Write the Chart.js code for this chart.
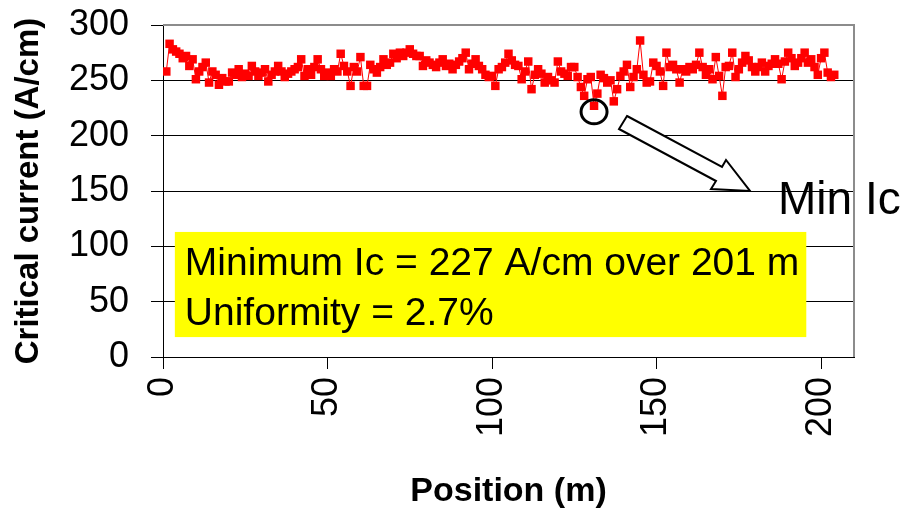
<!DOCTYPE html>
<html>
<head>
<meta charset="utf-8">
<script src="https://cdn.jsdelivr.net/npm/chart.js@4"></script>
<style>
  body { margin: 0; background: #fff; }
  canvas { display: block; }
</style>
</head>
<body>
<canvas id="icChart" width="907" height="509"></canvas>
<script>
// Position along the tape (m)
var positions = [
  1, 2, 3, 4, 5, 6, 7, 8, 9, 10,
  11, 12, 13, 14, 15, 16, 17, 18, 19, 20,
  21, 22, 23, 24, 25, 26, 27, 28, 29, 30,
  31, 32, 33, 34, 35, 36, 37, 38, 39, 40,
  41, 42, 43, 44, 45, 46, 47, 48, 49, 50,
  51, 52, 53, 54, 55, 56, 57, 58, 59, 60,
  61, 62, 63, 64, 65, 66, 67, 68, 69, 70,
  71, 72, 73, 74, 75, 76, 77, 78, 79, 80,
  81, 82, 83, 84, 85, 86, 87, 88, 89, 90,
  91, 92, 93, 94, 95, 96, 97, 98, 99, 100,
  101, 102, 103, 104, 105, 106, 107, 108, 109, 110,
  111, 112, 113, 114, 115, 116, 117, 118, 119, 120,
  121, 122, 123, 124, 125, 126, 127, 128, 129, 130,
  131, 132, 133, 134, 135, 136, 137, 138, 139, 140,
  141, 142, 143, 144, 145, 146, 147, 148, 149, 150,
  151, 152, 153, 154, 155, 156, 157, 158, 159, 160,
  161, 162, 163, 164, 165, 166, 167, 168, 169, 170,
  171, 172, 173, 174, 175, 176, 177, 178, 179, 180,
  181, 182, 183, 184, 185, 186, 187, 188, 189, 190,
  191, 192, 193, 194, 195, 196, 197, 198, 199, 200,
  201, 202, 203, 204
];

// Critical current (A/cm)
var currents = [
  258, 283, 278, 276, 274, 270, 272, 263, 269, 251,
  258, 262, 266, 248, 258, 255, 246, 252, 249, 249,
  257, 255, 260, 253, 256, 254, 263, 258, 254, 257,
  260, 249, 255, 258, 263, 258, 253, 256, 258, 260,
  262, 269, 254, 260, 255, 262, 269, 260, 254, 257,
  254, 260, 258, 274, 263, 258, 245, 262, 258, 271,
  245, 245, 264, 260, 257, 262, 269, 264, 266, 274,
  270, 275, 272, 275, 278, 274, 272, 272, 263, 268,
  266, 264, 262, 266, 269, 263, 265, 260, 264, 267,
  270, 275, 260, 265, 269, 263, 260, 255, 253, 254,
  245, 260, 262, 266, 274, 268, 264, 263, 251, 258,
  267, 242, 255, 260, 256, 248, 253, 250, 248, 267,
  258, 256, 254, 262, 262, 253, 244, 236, 251, 253,
  227, 238, 255, 252, 248, 250, 231, 242, 254, 258,
  264, 244, 253, 260, 286, 255, 248, 249, 266, 263,
  258, 245, 275, 262, 264, 260, 248, 260, 258, 262,
  260, 264, 275, 262, 255, 260, 251, 271, 254, 236,
  262, 263, 275, 253, 260, 266, 272, 268, 262, 258,
  262, 266, 258, 263, 265, 269, 265, 251, 267, 275,
  270, 263, 266, 270, 275, 266, 269, 262, 255, 270,
  275, 257, 253, 255
];

var xTicks = [0, 50, 100, 150, 200];
var yTicks = [0, 50, 100, 150, 200, 250, 300];

var boxLines = ["Minimum Ic = 227 A/cm over 201 m", "Uniformity = 2.7%"];
var calloutText = "Min Ic";
var minPoint = { x: 131, y: 227 };

var FONT = "'Liberation Sans', Arial, sans-serif";

// Background, plot frame and the callouts drawn on top of the chart
var decorations = {
  id: 'decorations',
  beforeDraw: function(chart) {
    var ctx = chart.ctx;
    ctx.save();
    ctx.fillStyle = '#fff';
    ctx.fillRect(0, 0, chart.width, chart.height);
    ctx.restore();
  },
  beforeDatasetsDraw: function(chart) {
    var ctx = chart.ctx, a = chart.chartArea;
    var xs = chart.scales.x, ys = chart.scales.y;
    ctx.save();
    // gray top/right frame
    ctx.strokeStyle = '#8c8c8c';
    ctx.lineWidth = 2;
    ctx.beginPath();
    ctx.moveTo(a.left, a.top);
    ctx.lineTo(a.right, a.top);
    ctx.lineTo(a.right, a.bottom);
    ctx.stroke();

    // yellow text box
    var bx = xs.getPixelForValue(3.6), by = ys.getPixelForValue(113);
    var bw = xs.getPixelForValue(195.5) - bx, bh = ys.getPixelForValue(18) - by;
    ctx.fillStyle = '#ffff00';
    ctx.fillRect(bx, by, bw, bh);
    ctx.fillStyle = '#000';
    ctx.font = '39px ' + FONT;
    ctx.textBaseline = 'alphabetic';
    ctx.textAlign = 'left';
    ctx.fillText(boxLines[0], bx + 10, by + 43);
    ctx.fillText(boxLines[1], bx + 10, by + 93);
    ctx.restore();
  },
  afterDraw: function(chart) {
    var ctx = chart.ctx;
    var xs = chart.scales.x, ys = chart.scales.y;
    ctx.save();
    // circle round the minimum
    var cx = xs.getPixelForValue(minPoint.x), cy = ys.getPixelForValue(minPoint.y) + 6;
    ctx.strokeStyle = '#000';
    ctx.lineWidth = 3;
    ctx.beginPath();
    ctx.ellipse(cx, cy, 13, 12, 0, 0, Math.PI * 2);
    ctx.stroke();

    // block arrow
    var pts = [[627, 116], [722, 167], [726, 160], [750, 191], [711, 189], [716, 181], [619, 129]];
    ctx.fillStyle = '#fff';
    ctx.lineWidth = 2;
    ctx.lineJoin = 'miter';
    ctx.beginPath();
    pts.forEach(function(p, i) {
      if (i === 0) ctx.moveTo(p[0], p[1]); else ctx.lineTo(p[0], p[1]);
    });
    ctx.closePath();
    ctx.fill();
    ctx.stroke();

    // callout label
    ctx.fillStyle = '#000';
    ctx.font = '46px ' + FONT;
    ctx.textBaseline = 'alphabetic';
    ctx.fillText(calloutText, 778, 214);
    ctx.restore();
  }
};

var ctx = document.getElementById('icChart').getContext('2d');
var icChart = new Chart(ctx, {
  type: 'scatter',
  data: {
    datasets: [{
      data: positions.map(function(p, i) { return { x: p, y: currents[i] }; }),
      showLine: true,
      borderColor: '#ff0000',
      borderWidth: 1,
      backgroundColor: '#ff0000',
      pointStyle: 'rect',
      pointRadius: 6,
      pointBorderWidth: 0,
      pointBackgroundColor: '#ff0000'
    }]
  },
  options: {
    responsive: false,
    animation: false,
    layout: { autoPadding: false, padding: { top: 25, right: 53, left: 0, bottom: 0 } },
    plugins: { legend: { display: false }, tooltip: { enabled: false } },
    scales: {
      x: {
        type: 'linear',
        min: 0,
        max: 210,
        afterBuildTicks: function(s) { s.ticks = xTicks.map(function(v) { return { value: v }; }); },
        afterFit: function(s) { s.height = 152; s.paddingLeft = 0; s.paddingRight = 0; },
        border: { color: '#000', width: 1 },
        grid: { drawOnChartArea: false, color: '#000', tickLength: 12 },
        ticks: {
          minRotation: 90, maxRotation: 90, padding: 8,
          color: '#000', font: { family: FONT, size: 36 }
        },
        title: {
          display: true, text: 'Position (m)', color: '#000',
          font: { family: FONT, size: 34, weight: 'bold', lineHeight: 1 },
          padding: { top: 0, bottom: 0 }
        }
      },
      y: {
        min: 0,
        max: 300,
        afterBuildTicks: function(s) { s.ticks = yTicks.map(function(v) { return { value: v }; }); },
        afterFit: function(s) { s.width = 163; s.paddingTop = 0; s.paddingBottom = 0; },
        border: { color: '#000', width: 1 },
        grid: {
          color: function(c) { return c.tick && c.tick.value === 300 ? 'rgba(0,0,0,0)' : '#000'; },
          tickColor: '#000',
          tickLength: 12
        },
        ticks: { padding: 22, color: '#000', font: { family: FONT, size: 36 } },
        title: {
          display: true, text: 'Critical current (A/cm)', color: '#000',
          font: { family: FONT, size: 33, weight: 'bold', lineHeight: 1.2 },
          padding: { top: 9, bottom: 0 }
        }
      }
    }
  },
  plugins: [decorations]
});
</script>
</body>
</html>
